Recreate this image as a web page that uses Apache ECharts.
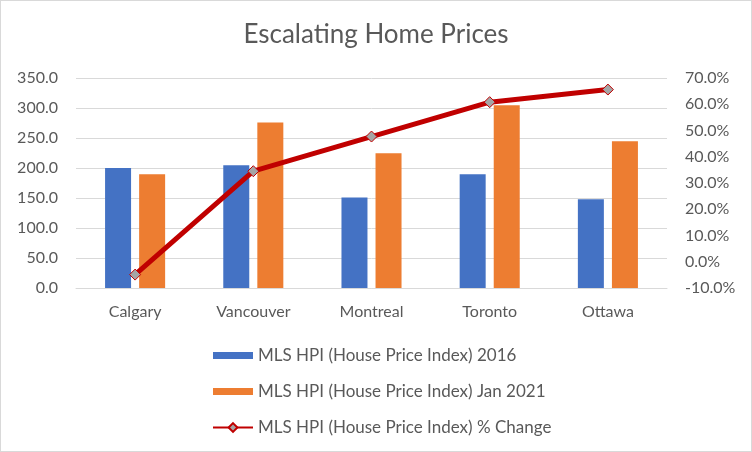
<!DOCTYPE html>
<html>
<head>
<meta charset="utf-8">
<script src="https://cdn.jsdelivr.net/npm/echarts@6/dist/echarts.min.js"></script>
<style>
    html, body { margin: 0; padding: 0; background: #fff; }
    #chart { width: 750px; height: 450px; border: 1px solid #D9D9D9; }
</style>
</head>
<body>
<div id="chart"></div>
<script>
// chart data
var cities = ["Calgary", "Vancouver", "Montreal", "Toronto", "Ottawa"];
var hpi2016 = [200, 204.5, 151, 189.5, 148];
var hpi2021 = [189.5, 276, 224.5, 304.5, 244.5];
var pctChange = [-4.9, 34.5, 47.7, 60.8, 65.6];

var seriesNames = [
    "MLS HPI (House Price Index) 2016",
    "MLS HPI (House Price Index) Jan 2021",
    "MLS HPI (House Price Index) % Change"
];

var textColor = "#595959";
var gridColor = "#D9D9D9";
var font = "Lato";

var myChart = echarts.init(document.getElementById("chart"));

var option = {
    animation: false,
    title: {
        text: "Escalating Home Prices",
        left: "center",
        top: 16,
        textStyle: {
            fontFamily: font,
            fontSize: 26,
            fontWeight: "normal",
            color: textColor
        }
    },
    legend: {
        orient: "vertical",
        left: 206,
        top: 341,
        itemWidth: 40,
        itemHeight: 11,
        itemGap: 19,
        textStyle: {
            fontFamily: font,
            fontSize: 17,
            color: textColor
        },
        data: [
            { name: seriesNames[0], icon: "path://M0,0h40v7h-40z" },
            { name: seriesNames[1], icon: "path://M0,0h40v7h-40z" },
            { name: seriesNames[2] }
        ]
    },
    grid: {
        left: 75,
        right: 84,
        top: 77,
        bottom: 163
    },
    xAxis: {
        type: "category",
        data: cities,
        axisLine: { lineStyle: { color: gridColor, width: 1 } },
        axisTick: { show: false },
        axisLabel: {
            fontFamily: font,
            fontSize: 16,
            color: textColor,
            margin: 16
        }
    },
    yAxis: [
        {
            type: "value",
            min: 0,
            max: 350,
            interval: 50,
            axisLine: { show: false },
            axisTick: { show: false },
            splitLine: { lineStyle: { color: gridColor, width: 1 } },
            axisLabel: {
                fontFamily: font,
                fontSize: 16,
                color: textColor,
                margin: 18,
                formatter: function (v) { return v.toFixed(1); }
            }
        },
        {
            type: "value",
            min: -10,
            max: 70,
            interval: 10,
            axisLine: { show: false },
            axisTick: { show: false },
            splitLine: { show: false },
            axisLabel: {
                fontFamily: font,
                fontSize: 16,
                color: textColor,
                margin: 18,
                formatter: function (v) { return v.toFixed(1) + "%"; }
            }
        }
    ],
    series: [
        {
            name: seriesNames[0],
            type: "bar",
            data: hpi2016,
            barWidth: 26,
            barGap: "31%",
            itemStyle: { color: "#4472C4" }
        },
        {
            name: seriesNames[1],
            type: "bar",
            data: hpi2021,
            barWidth: 26,
            barGap: "31%",
            itemStyle: { color: "#ED7D31" }
        },
        {
            name: seriesNames[2],
            type: "line",
            yAxisIndex: 1,
            data: pctChange,
            symbol: "diamond",
            symbolSize: 11,
            lineStyle: { color: "#C00000", width: 5 },
            itemStyle: { color: "#A5A5A5", borderColor: "#C00000", borderWidth: 1 }
        }
    ]
};

myChart.setOption(option);
</script>
</body>
</html>
